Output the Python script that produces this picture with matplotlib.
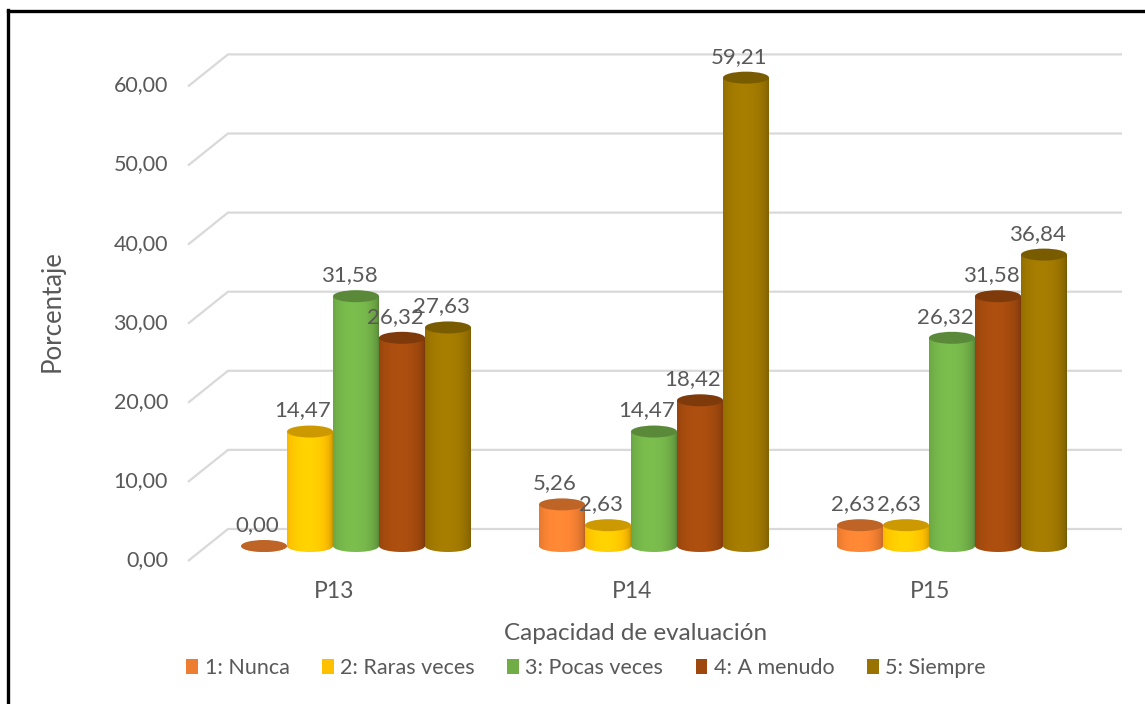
import numpy as np
import matplotlib
matplotlib.use("Agg")
import matplotlib.pyplot as plt
from matplotlib.patches import Ellipse, PathPatch, Patch
from matplotlib.path import Path
from matplotlib.lines import Line2D
from matplotlib.colors import to_rgb

# ---- data -------------------------------------------------------------
categories = ["P13", "P14", "P15"]
series_names = ["1: Nunca", "2: Raras veces", "3: Pocas veces", "4: A menudo", "5: Siempre"]
nunca = [0.00, 5.26, 2.63]
raras_veces = [14.47, 2.63, 2.63]
pocas_veces = [31.58, 14.47, 26.32]
a_menudo = [26.32, 18.42, 31.58]
siempre = [27.63, 59.21, 36.84]
y_ticks = [0, 10, 20, 30, 40, 50, 60]
x_title = "Capacidad de evaluación"
y_title = "Porcentaje"

series_values = [nunca, raras_veces, pocas_veces, a_menudo, siempre]
series_colors = ["#ED7D31", "#FFC000", "#70AD47", "#9E480E", "#997300"]

# ---- figure / layout --------------------------------------------------
W, H, DPI = 1145, 704, 100
plt.rcParams["font.family"] = ["Lato", "DejaVu Sans"]
TEXT = "#595959"

fig = plt.figure(figsize=(W / DPI, H / DPI), dpi=DPI)
ax = fig.add_axes([0, 0, 1, 1])
ax.set_axis_off()

# pixel geometry of the plot
GROUP_PX = 298.0        # distance between category centres
X0_PX = 356.0           # centre of first category
BASE_PX = 546.0         # baseline of the bars (from top)
UNIT_PX = 7.91          # pixels per percentage point
BAR_PX = 46.0           # cylinder diameter
ELL_PX = 12.0           # height of the cylinder end ellipses


def px_x(p):
    return (p - X0_PX) / GROUP_PX


def px_dy(d):
    return d / UNIT_PX


bar_w = BAR_PX / GROUP_PX
ell_h = px_dy(ELL_PX)

# ---- gridlines (back wall + left floor edge) --------------------------
back_dy = px_dy(17)       # back wall sits above the bar plane
front_dy = px_dy(-15)     # front edge lies below it
x_front, x_back, x_end = px_x(188), px_x(228), px_x(1122)
for v in y_ticks:
    ax.plot([x_front, x_back, x_end], [v + front_dy, v + back_dy, v + back_dy],
            color="#D9D9D9", lw=1.6, zorder=1, solid_capstyle="butt")
    ax.text(px_x(168), v + front_dy + px_dy(1), f"{v:.2f}".replace(".", ","),
            ha="right", va="center", fontsize=15.5, color=TEXT)


# ---- cylinders --------------------------------------------------------
def shade_strip(base, n=120):
    t = np.linspace(-1, 1, n)
    s = 0.74 + 0.36 * np.sqrt(np.clip(1 - ((t + 0.12) / 1.12) ** 2, 0, 1))
    rgb = np.clip(np.outer(s, base), 0, 1)
    return rgb[np.newaxis, :, :]


def cylinder(cx, value, color, z):
    base = np.array(to_rgb(color))
    x0, x1 = cx - bar_w / 2, cx + bar_w / 2
    top = value
    theta = np.linspace(np.pi, 2 * np.pi, 60)
    arc_x = cx + bar_w / 2 * np.cos(theta)
    arc_y = ell_h / 2 * np.sin(theta)
    verts = [(x0, top), (x0, 0)] + list(zip(arc_x, arc_y)) + [(x1, top), (x0, top)]
    codes = [Path.MOVETO] + [Path.LINETO] * (len(verts) - 2) + [Path.CLOSEPOLY]
    body = PathPatch(Path(verts, codes), facecolor="none", edgecolor="none",
                     transform=ax.transData)
    ax.add_patch(body)
    im = ax.imshow(shade_strip(base), extent=[x0, x1, -ell_h / 2, max(top, 0.001)],
                   aspect="auto", interpolation="bilinear", zorder=z, origin="lower")
    im.set_clip_path(body)
    cap = np.clip(base * 0.8, 0, 1)
    ax.add_patch(Ellipse((cx, top), bar_w, ell_h, facecolor=cap, edgecolor="none",
                         zorder=z + 0.1))


z = 3
for i, cat in enumerate(categories):
    for j, (vals, col) in enumerate(zip(series_values, series_colors)):
        cx = i + (j - 2) * bar_w
        v = vals[i]
        cylinder(cx, v, col, z)
        z += 1
        ax.annotate(f"{v:.2f}".replace(".", ","), xy=(cx, v), xytext=(-7, 21),
                    textcoords="offset pixels", ha="center", va="center",
                    fontsize=16, color=TEXT, zorder=100)
    ax.annotate(cat, xy=(i, 0), xytext=(-22, -46), textcoords="offset pixels",
                ha="center", va="center", fontsize=16.5, color=TEXT)

ax.set_xlim(px_x(0), px_x(W))
ax.set_ylim((BASE_PX - H) / UNIT_PX, BASE_PX / UNIT_PX)

# ---- titles ------------------------------------------------------------
fig.text(636 / W, 1 - 634 / H, x_title, ha="center", va="center",
         fontsize=17.5, color=TEXT)
fig.text(52 / W, 1 - 311 / H, y_title, ha="center", va="center",
         rotation=90, fontsize=18.5, color=TEXT)

# ---- legend ------------------------------------------------------------
handles = [Patch(facecolor=c, edgecolor="none", label=n)
           for c, n in zip(series_colors, series_names)]
fig.legend(handles=handles, loc="center", bbox_to_anchor=(586 / W, 1 - 668 / H),
           ncol=5, frameon=False, fontsize=15.5, labelcolor=TEXT,
           handlelength=0.55, handleheight=0.75, handletextpad=0.3,
           columnspacing=1.5)

# ---- outer frame ---------------------------------------------------------
fig.add_artist(Line2D([8 / W, 8 / W], [1 - 10 / H, -0.01], color="black", lw=2.4,
                      transform=fig.transFigure))
fig.add_artist(Line2D([8 / W, 1.01], [1 - 11 / H, 1 - 11 / H], color="black", lw=2.4,
                      transform=fig.transFigure))

fig.savefig("out.png", dpi=DPI, facecolor="white")
